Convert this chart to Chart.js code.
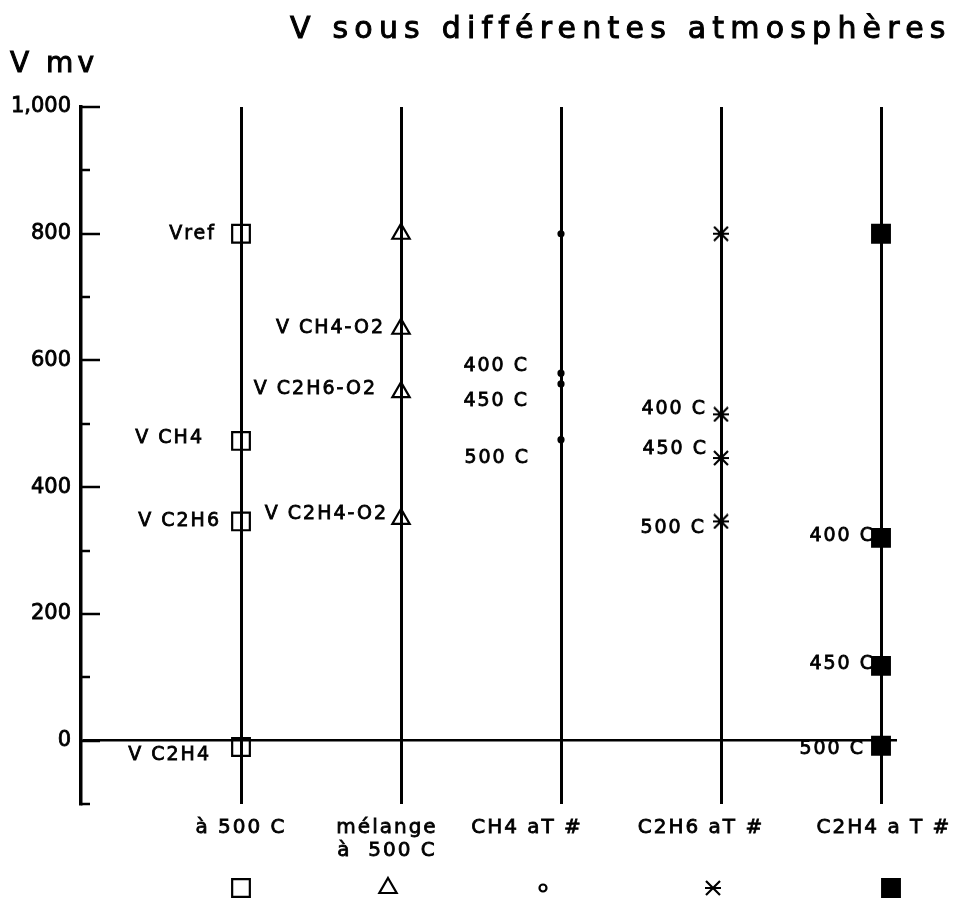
<!DOCTYPE html>
<html>
<head>
<meta charset="utf-8">
<script src="https://cdn.jsdelivr.net/npm/chart.js@4"></script>
<style>
	body { margin: 0; background: #fff; }
</style>
</head>
<body>
<canvas id="chartCanvas" width="956" height="911"></canvas>
<script>
// columns of the plot, one per atmosphere
const columns = [1, 2, 3, 4, 5]
const categories = [['à 500 C'], ['mélange', 'à  500 C'], ['CH4 aT #'], ['C2H6 aT #'], ['C2H4 a T #']]

// potentials in mV
const refValues = [800, 473, 346, -10]
const refLabels = ['Vref', 'V CH4', 'V C2H6', 'V C2H4']
const mixValues = [800, 650, 550, 350]
const mixLabels = ['', 'V CH4-O2', 'V C2H6-O2', 'V C2H4-O2']
const ch4Values = [800, 580, 563, 475]
const c2h6Values = [800, 515, 446, 346]
const c2h4Values = [800, 320, 118, -8]
const tempLabels = ['', '400 C', '450 C', '500 C']

const yTicks = [0, 200, 400, 600, 800, 1000]

// text offsets (px) from each point: [dx to right edge of text, dy]
const labelNudge = [
	[[-25, 0], [-37, -3], [-20, 0], [-30, 8]],
	[[0, 0], [-16, -1], [-24, -3], [-13, -5]],
	[[0, 0], [-32, -7], [-32, 17], [-31, 18]],
	[[0, 0], [-14, -5], [-13, -9], [-15, 7]],
	[[0, 0], [-6, -2], [-6, -2], [-16, 3]]
]
// legend row shifts (px) relative to each column: [label, marker]
const legendShift = [[0, 0], [-14, -13], [-34, -18], [-20, -8], [3, 10]]

const FONT = '"DejaVu Sans", sans-serif'

function asterisk(w, h, lw) {
	let c = document.createElement('canvas')
	c.width = w
	c.height = h
	let g = c.getContext('2d')
	g.strokeStyle = '#000'
	g.lineWidth = lw
	g.beginPath()
	g.moveTo(1, 1); g.lineTo(w - 1, h - 1)
	g.moveTo(w - 1, 1); g.lineTo(1, h - 1)
	g.moveTo(0, h / 2); g.lineTo(w, h / 2)
	g.stroke()
	return c
}
const starMark = asterisk(16, 16, 2.2)

function series(label, col, values, labels, style) {
	return Object.assign({
		label: label,
		data: values.map(v => ({ x: col, y: v })),
		pointLabels: labels,
		showLine: false,
		borderColor: '#000',
		backgroundColor: 'rgba(0,0,0,0)',
		pointBorderWidth: 2.2,
		pointHoverRadius: 0
	}, style)
}

// plotter-like text: filled, then outlined a little to thicken the strokes
function inkText(ctx, text, x, y) {
	ctx.fillText(text, x, y)
	ctx.strokeText(text, x, y)
}

// draw text stretched to a given width by letter spacing
function spread(ctx, text, x, y, width) {
	ctx.letterSpacing = '0px'
	let w = ctx.measureText(text).width
	ctx.letterSpacing = ((width - w) / (text.length - 1)) + 'px'
	ctx.textAlign = 'left'
	inkText(ctx, text, x, y)
	ctx.letterSpacing = '0px'
}

const textPlugin = {
	id: 'plotText',
	beforeDatasetsDraw(chart) {
		const ctx = chart.ctx, xs = chart.scales.x, ys = chart.scales.y
		ctx.save()
		// tick marks pointing into the plot
		ctx.strokeStyle = '#000'
		ctx.lineWidth = 2.5
		for (let v = -100; v <= 1000; v += 100) {
			let len = v % 200 === 0 ? 19 : 9
			let py = Math.round(ys.getPixelForValue(v))
			ctx.beginPath()
			ctx.moveTo(xs.left, py)
			ctx.lineTo(xs.left + len, py)
			ctx.stroke()
		}
		// point captions
		ctx.font = '19px ' + FONT
		ctx.letterSpacing = '2px'
		ctx.lineWidth = 0.8
		ctx.textAlign = 'right'
		ctx.textBaseline = 'middle'
		ctx.fillStyle = '#000'
		chart.data.datasets.forEach((ds, i) => {
			let meta = chart.getDatasetMeta(i)
			ds.pointLabels.forEach((t, j) => {
				if (!t) return
				let el = meta.data[j]
				let n = labelNudge[i][j]
				inkText(ctx, t, el.x + n[0], el.y + n[1])
			})
		})
		ctx.restore()
	},
	afterDraw(chart) {
		const ctx = chart.ctx, xs = chart.scales.x
		ctx.save()
		ctx.fillStyle = '#000'
		ctx.strokeStyle = '#000'
		ctx.lineWidth = 1
		ctx.textBaseline = 'alphabetic'
		ctx.font = '30px ' + FONT
		spread(ctx, 'V sous différentes atmosphères', 290, 38, 655)
		ctx.font = '28px ' + FONT
		spread(ctx, 'V mv', 10, 72, 84)

		// legend row under the columns
		ctx.font = '20px ' + FONT
		ctx.letterSpacing = '2px'
		ctx.lineWidth = 0.8
		ctx.textAlign = 'center'
		ctx.textBaseline = 'middle'
		chart.data.datasets.forEach((ds, i) => {
			let cx = xs.getPixelForValue(columns[i])
			ctx.fillStyle = '#000'
			ctx.lineWidth = 0.8
			categories[i].forEach((line, k) => {
				inkText(ctx, line, cx + legendShift[i][0], 828 + k * 23)
			})
			let style = {
				pointStyle: ds.pointStyle,
				radius: ds.legendRadius || ds.pointRadius,
				borderWidth: 2.2
			}
			ctx.fillStyle = ds.legendFill || ds.backgroundColor
			ctx.lineWidth = 2.2
			Chart.helpers.drawPoint(ctx, style, cx + legendShift[i][1], 888)
		})
		ctx.restore()
	}
}

function initChart() {
	const config = {
		type: 'scatter',
		data: {
			datasets: [
				series('à 500 C', 1, refValues, refLabels, { pointStyle: 'rect', pointRadius: 12.5 }),
				series('mélange à 500 C', 2, mixValues, mixLabels, { pointStyle: 'triangle', pointRadius: 10 }),
				series('CH4 aT #', 3, ch4Values, tempLabels, {
					pointStyle: 'circle', pointRadius: 2.5, backgroundColor: '#000',
					legendRadius: 3.5, legendFill: 'rgba(0,0,0,0)'
				}),
				series('C2H6 aT #', 4, c2h6Values, tempLabels, { pointStyle: starMark, pointRadius: 8 }),
				series('C2H4 a T #', 5, c2h4Values, tempLabels, {
					pointStyle: 'rect', pointRadius: 12.5, backgroundColor: '#000'
				})
			]
		},
		plugins: [textPlugin],
		options: {
			responsive: false,
			animation: false,
			events: [],
			layout: { padding: { top: 107, bottom: 107, right: 59, left: 0 } },
			plugins: {
				legend: { display: false },
				tooltip: { enabled: false },
				title: { display: false }
			},
			scales: {
				x: {
					type: 'linear',
					min: 0,
					max: 5.1,
					afterBuildTicks: s => { s.ticks = columns.map(v => ({ value: v })) },
					afterFit: s => { s.height = 0 },
					ticks: { display: false },
					border: { display: false },
					grid: { color: '#000', lineWidth: 3, drawTicks: false }
				},
				y: {
					min: -100,
					max: 1000,
					afterBuildTicks: s => { s.ticks = yTicks.map(v => ({ value: v })) },
					afterFit: s => { s.width = 81 },
					ticks: {
						color: '#000',
						padding: 10,
						textStrokeColor: '#000',
						textStrokeWidth: 0.8,
						font: { family: 'DejaVu Sans', size: 21 }
					},
					border: { display: true, color: '#000', width: 3.5 },
					grid: {
						drawTicks: false,
						lineWidth: 2.5,
						color: c => c.tick && c.tick.value === 0 ? '#000' : 'rgba(0,0,0,0)'
					}
				}
			}
		}
	}
	window.myChart = new Chart(document.getElementById('chartCanvas'), config)
}

window.onload = function() {
	initChart()
}
</script>
</body>
</html>
